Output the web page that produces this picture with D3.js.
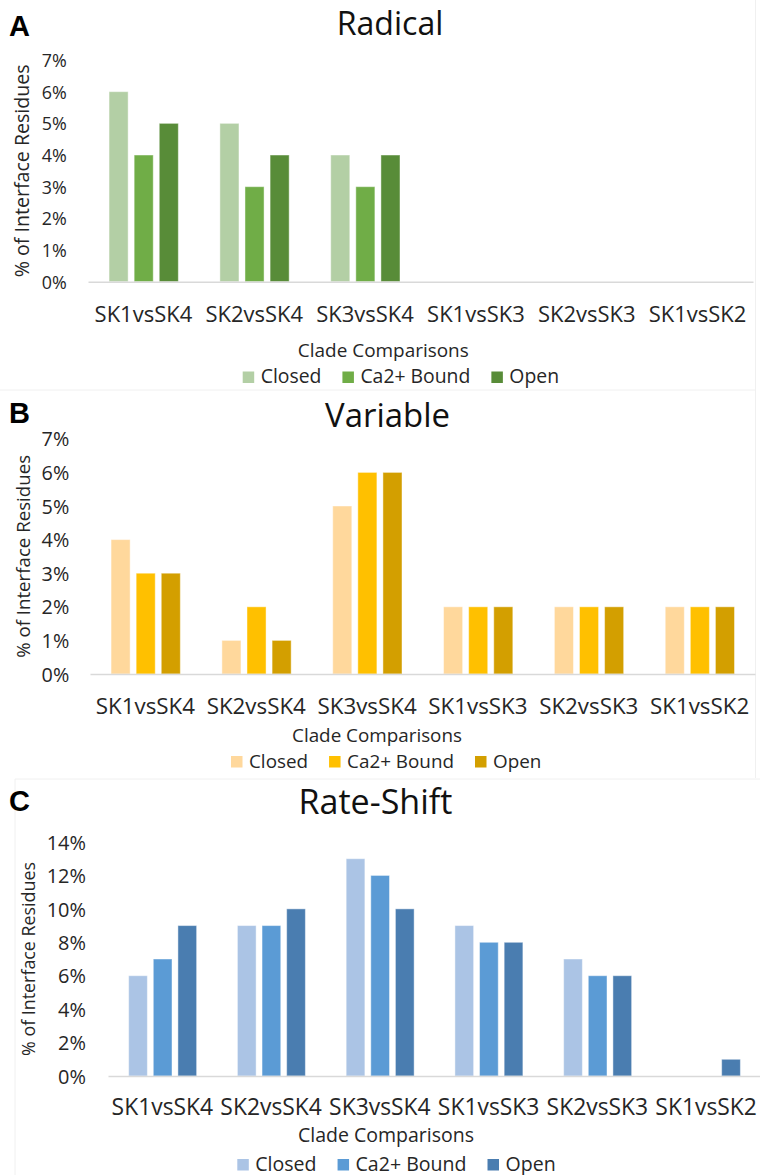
<!DOCTYPE html>
<html><head><meta charset="utf-8">
<script src="https://cdn.jsdelivr.net/npm/d3@7"></script>
<style>
body{margin:0;background:#fff}
svg{display:block}
text{font-family:"Open Sans",sans-serif;fill:#262626}
</style>
</head><body>
<svg id="chart" width="760" height="1175"></svg>
<script>
// ---------- data ----------
const categories = ["SK1vsSK4","SK2vsSK4","SK3vsSK4","SK1vsSK3","SK2vsSK3","SK1vsSK2"];
const seriesNames = ["Closed","Ca2+ Bound","Open"];

const radicalClosed = [6,5,4,0,0,0];
const radicalCa2    = [4,3,3,0,0,0];
const radicalOpen   = [5,4,4,0,0,0];

const variableClosed = [4,1,5,2,2,2];
const variableCa2    = [3,2,6,2,2,2];
const variableOpen   = [3,1,6,2,2,2];

const rateClosed = [6,9,13,9,7,0];
const rateCa2    = [7,9,12,8,6,0];
const rateOpen   = [9,10,10,8,6,1];

const ticksAB = [0,1,2,3,4,5,6,7];
const ticksC  = [0,2,4,6,8,10,12,14];

const xTitle = "Clade Comparisons";
const yTitle = "% of Interface Residues";

// ---------- styles / layout ----------
const greens  = ["#b3cfa5","#70ad47","#588c38"];
const yellows = ["#ffd89c","#ffc000","#d39f00"];
const blues   = ["#abc4e5","#5b9bd5","#4a7db0"];

const panels = [
  {letter:"A", letterY:36, title:"Radical", titleX:390, titleY:35, titleW:106.7,
   series:[radicalClosed,radicalCa2,radicalOpen], colors:greens,
   x0:88, x1:753, yBase:281.7, yTop:60, yMax:7, ticks:ticksAB, tickSample:"7%", tickW:25, tickRight:66.7,
   xLabY:322.5, xLabW:97.7, yTitleX:21.7, yTitleW:213,
   axTitleX:383.3, axTitleY:356.5, axTitleW:171, legX:242.7, legY:383, legTextW:110},
  {letter:"B", letterY:423.3, title:"Variable", titleX:387.5, titleY:426.7, titleW:125,
   series:[variableClosed,variableCa2,variableOpen], colors:yellows,
   x0:90, x1:755, yBase:674, yTop:438.8, yMax:7, ticks:ticksAB, tickSample:"7%", tickW:27.7, tickRight:69.3,
   xLabY:714, xLabW:99.3, yTitleX:23, yTitleW:203,
   axTitleX:377, axTitleY:742, axTitleW:170, legX:231, legY:767.5, legTextW:107},
  {letter:"C", letterY:810.7, title:"Rate-Shift", titleX:375.5, titleY:814, titleW:154,
   series:[rateClosed,rateCa2,rateOpen], colors:blues,
   x0:108, x1:760.5, yBase:1076, yTop:842, yMax:14, ticks:ticksC, tickSample:"14%", tickW:39.3, tickRight:86,
   xLabY:1114.5, xLabW:101.6, yTitleX:28.3, yTitleW:194,
   axTitleX:386, axTitleY:1141.5, axTitleW:176, legX:237.3, legY:1170.5, legTextW:111}
];

const svg = d3.select("#chart");

function fitSize(sample, w, weight){
  const t = svg.append("text").text(sample).style("font-size","20px").style("font-weight",weight||"normal");
  const l = t.node().getComputedTextLength();
  t.remove();
  return 20*w/l;
}

// faint chart-area borders
svg.append("line").attr("x1",0).attr("x2",756).attr("y1",390).attr("y2",390).attr("stroke","#f0f0f0");
svg.append("line").attr("x1",755.5).attr("x2",755.5).attr("y1",0).attr("y2",778).attr("stroke","#f0f0f0");
svg.append("line").attr("x1",15).attr("x2",15).attr("y1",779).attr("y2",1175).attr("stroke","#f0f0f0");
svg.append("line").attr("x1",15).attr("x2",760).attr("y1",779).attr("y2",779).attr("stroke","#f0f0f0");

panels.forEach(p => {
  const g = svg.append("g");

  // panel letter
  g.append("text").attr("x",9).attr("y",p.letterY).text(p.letter)
    .style("font-family","'Liberation Sans',Arial,sans-serif").style("font-weight","bold")
    .style("font-size","29px").style("fill","#000");

  // title
  g.append("text").attr("x",p.titleX).attr("y",p.titleY).attr("text-anchor","middle")
    .text(p.title).style("font-size",fitSize(p.title,p.titleW)+"px").style("fill","#111");

  const x0 = d3.scaleBand().domain(categories).range([p.x0,p.x1]).padding(0);
  const bw = x0.bandwidth();
  const x1 = d3.scaleBand().domain(seriesNames).range([bw*0.19,bw*0.815]).paddingInner(0.24);
  const y = d3.scaleLinear().domain([0,p.yMax]).range([p.yBase,p.yTop]);

  // bars
  const groups = g.selectAll("g.grp").data(categories).join("g")
    .attr("class","grp").attr("transform",d=>`translate(${x0(d)},0)`);
  groups.selectAll("rect").data((c,i)=>seriesNames.map((s,k)=>({s,k,v:p.series[k][i]})))
    .join("rect")
    .filter(d=>d.v>0)
    .attr("x",d=>x1(d.s)).attr("width",x1.bandwidth())
    .attr("y",d=>y(d.v)).attr("height",d=>y(0)-y(d.v))
    .attr("fill",d=>p.colors[d.k])
    .attr("stroke","#ffffff").attr("stroke-opacity",0.45).attr("stroke-width",1);

  // y axis
  const tickSize = fitSize(p.tickSample,p.tickW);
  const ya = g.append("g").attr("transform",`translate(${p.tickRight},0)`)
    .call(d3.axisLeft(y).tickValues(p.ticks).tickFormat(d=>d+"%").tickSize(0).tickPadding(0));
  ya.select(".domain").remove();
  ya.selectAll("text").style("font-size",tickSize+"px").style("font-family","'Open Sans',sans-serif")
    .attr("dy","0.36em").style("fill","#262626");

  // x axis
  const xSize = fitSize("SK1vsSK4",p.xLabW);
  const xa = g.append("g").attr("transform",`translate(0,${p.yBase})`)
    .call(d3.axisBottom(x0).tickSize(0).tickSizeOuter(0));
  xa.select(".domain").attr("stroke","#d9d9d9").attr("stroke-width",1.5);
  xa.selectAll("text").attr("y",p.xLabY-p.yBase).attr("dy",0)
    .style("font-size",xSize+"px").style("font-family","'Open Sans',sans-serif").style("fill","#262626");

  // axis titles
  g.append("text").attr("x",p.axTitleX).attr("y",p.axTitleY).attr("text-anchor","middle")
    .text(xTitle).style("font-size",fitSize(xTitle,p.axTitleW)+"px");
  g.append("text").attr("transform",`translate(${p.yTitleX},${(p.yBase+p.yTop)/2}) rotate(-90)`)
    .attr("text-anchor","middle").attr("dy","0.36em")
    .text(yTitle).style("font-size",fitSize(yTitle,p.yTitleW)+"px");

  // legend
  const lSize = fitSize("Ca2+ Bound",p.legTextW);
  let lx = p.legX;
  const sw = 11.5;
  seriesNames.forEach((s,k)=>{
    g.append("rect").attr("x",lx).attr("y",p.legY-sw).attr("width",sw).attr("height",sw).attr("fill",p.colors[k]);
    const t = g.append("text").attr("x",lx+sw+6.5).attr("y",p.legY).text(s).style("font-size",lSize+"px");
    lx += sw + 6.5 + t.node().getComputedTextLength() + 21;
  });
});
</script>
</body></html>
